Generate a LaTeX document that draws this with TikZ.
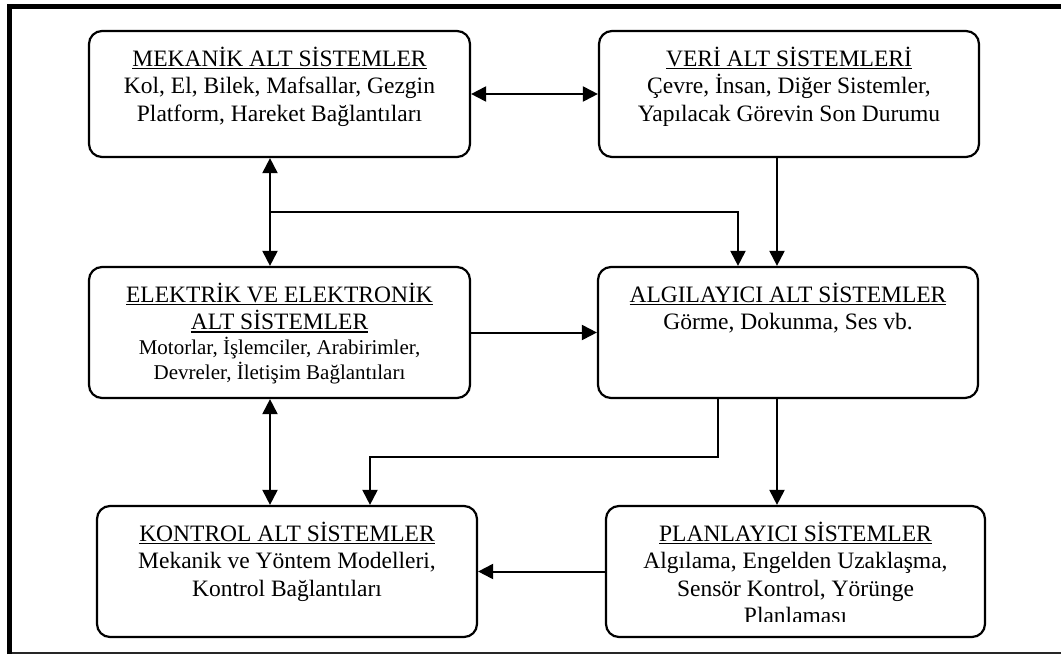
\documentclass[tikz,border=0pt]{standalone}
\usepackage{fontspec}
\setmainfont{Liberation Serif}
\usetikzlibrary{arrows.meta}
\newcommand\myul[1]{\setbox0\hbox{#1}\rlap{\rule[-3pt]{\wd0}{1.6pt}}\box0}
\newcommand\bigf{\fontsize{23.5}{27.5}\selectfont}
\newcommand\smallf{\fontsize{21}{24.8}\selectfont}
\newcommand\topst{\rule{0pt}{22pt}}
\tikzset{
  sysbox/.style={draw, line width=2.2pt, rounded corners=13pt, inner sep=0pt},
  txt/.style={anchor=north, align=center, inner sep=0pt, font=\bigf},
  arr/.style={line width=2pt, -{Triangle[length=15pt,width=15pt]}},
  darr/.style={line width=2pt, {Triangle[length=15pt,width=15pt]}-{Triangle[length=15pt,width=15pt]}},
  ln/.style={line width=2pt}
}
\begin{document}
\begin{tikzpicture}[x=1pt,y=-1pt]
\useasboundingbox (0,0) rectangle (1061,654);
% frame
\draw[line width=5pt] (9.5,654) -- (9.5,6.5) -- (1061,6.5);
\draw[line width=1.5pt, black!85] (12,653) -- (1061,653);
% boxes
\node[sysbox, minimum width=381pt, minimum height=126pt] (mek) at (279.5,94) {};
\node[sysbox, minimum width=380pt, minimum height=126pt] (veri) at (789,94) {};
\node[sysbox, minimum width=381pt, minimum height=131pt] (elek) at (279.5,332.5) {};
\node[sysbox, minimum width=380pt, minimum height=131pt] (alg) at (788,332.5) {};
\node[sysbox, minimum width=380pt, minimum height=131pt] (kon) at (287,571.5) {};
\node[sysbox, minimum width=379pt, minimum height=131pt] (plan) at (795.5,571.5) {};
% texts
\node[txt] (mekt) at ([yshift=-14pt]mek.north) {\topst\myul{MEKANİK ALT SİSTEMLER}\\Kol, El, Bilek, Mafsallar, Gezgin\\Platform, Hareket Bağlantıları};
\node[txt] (verit) at ([yshift=-14pt]veri.north) {\topst\myul{VERİ ALT SİSTEMLERİ}\\Çevre, İnsan, Diğer Sistemler,\\Yapılacak Görevin Son Durumu};
\node[txt] (elekt) at ([yshift=-14pt]elek.north) {\topst\myul{ELEKTRİK VE ELEKTRONİK}\\\myul{ALT SİSTEMLER}\\[-2.5pt]{\smallf Motorlar, İşlemciler, Arabirimler,}\\[-2.5pt]{\smallf Devreler, İletişim Bağlantıları}};
\node[txt] (algt) at ([yshift=-14pt]alg.north) {\topst\myul{ALGILAYICI ALT SİSTEMLER}\\Görme, Dokunma, Ses vb.};
\node[txt] (kont) at ([yshift=-14pt]kon.north) {\topst\myul{KONTROL ALT SİSTEMLER}\\Mekanik ve Yöntem Modelleri,\\Kontrol Bağlantıları};
\begin{scope}
\clip (600,500) rectangle (990,621.5);
\node[txt] (plant) at ([yshift=-14pt]plan.north) {\topst\myul{PLANLAYICI SİSTEMLER}\\Algılama, Engelden Uzaklaşma,\\Sensör Kontrol, Yörünge\\Planlaması};
\end{scope}
% helper coordinates
\coordinate (xa) at (270,0);
\coordinate (xb) at (777,0);
\coordinate (xc) at (738,0);
\coordinate (xd) at (718,0);
\coordinate (xe) at (370,0);
\coordinate (j1) at (270,212);
\coordinate (c1) at (738,212);
\coordinate (c2) at (718,457);
\coordinate (c3) at (370,457);
% connectors
\draw[darr] (mek.east) -- (veri.west);
\draw[darr] (mek.south -| xa) -- (elek.north -| xa);
\draw[arr] (j1) -- (c1) -- (alg.north -| xc);
\draw[arr] (veri.south -| xb) -- (alg.north -| xb);
\draw[arr] (elek.east) -- (alg.west);
\draw[darr] (elek.south -| xa) -- (kon.north -| xa);
\draw[arr] (alg.south -| xd) -- (c2) -- (c3) -- (kon.north -| xe);
\draw[arr] (alg.south -| xb) -- (plan.north -| xb);
\draw[arr] (plan.west) -- (kon.east);
\end{tikzpicture}
\end{document}
